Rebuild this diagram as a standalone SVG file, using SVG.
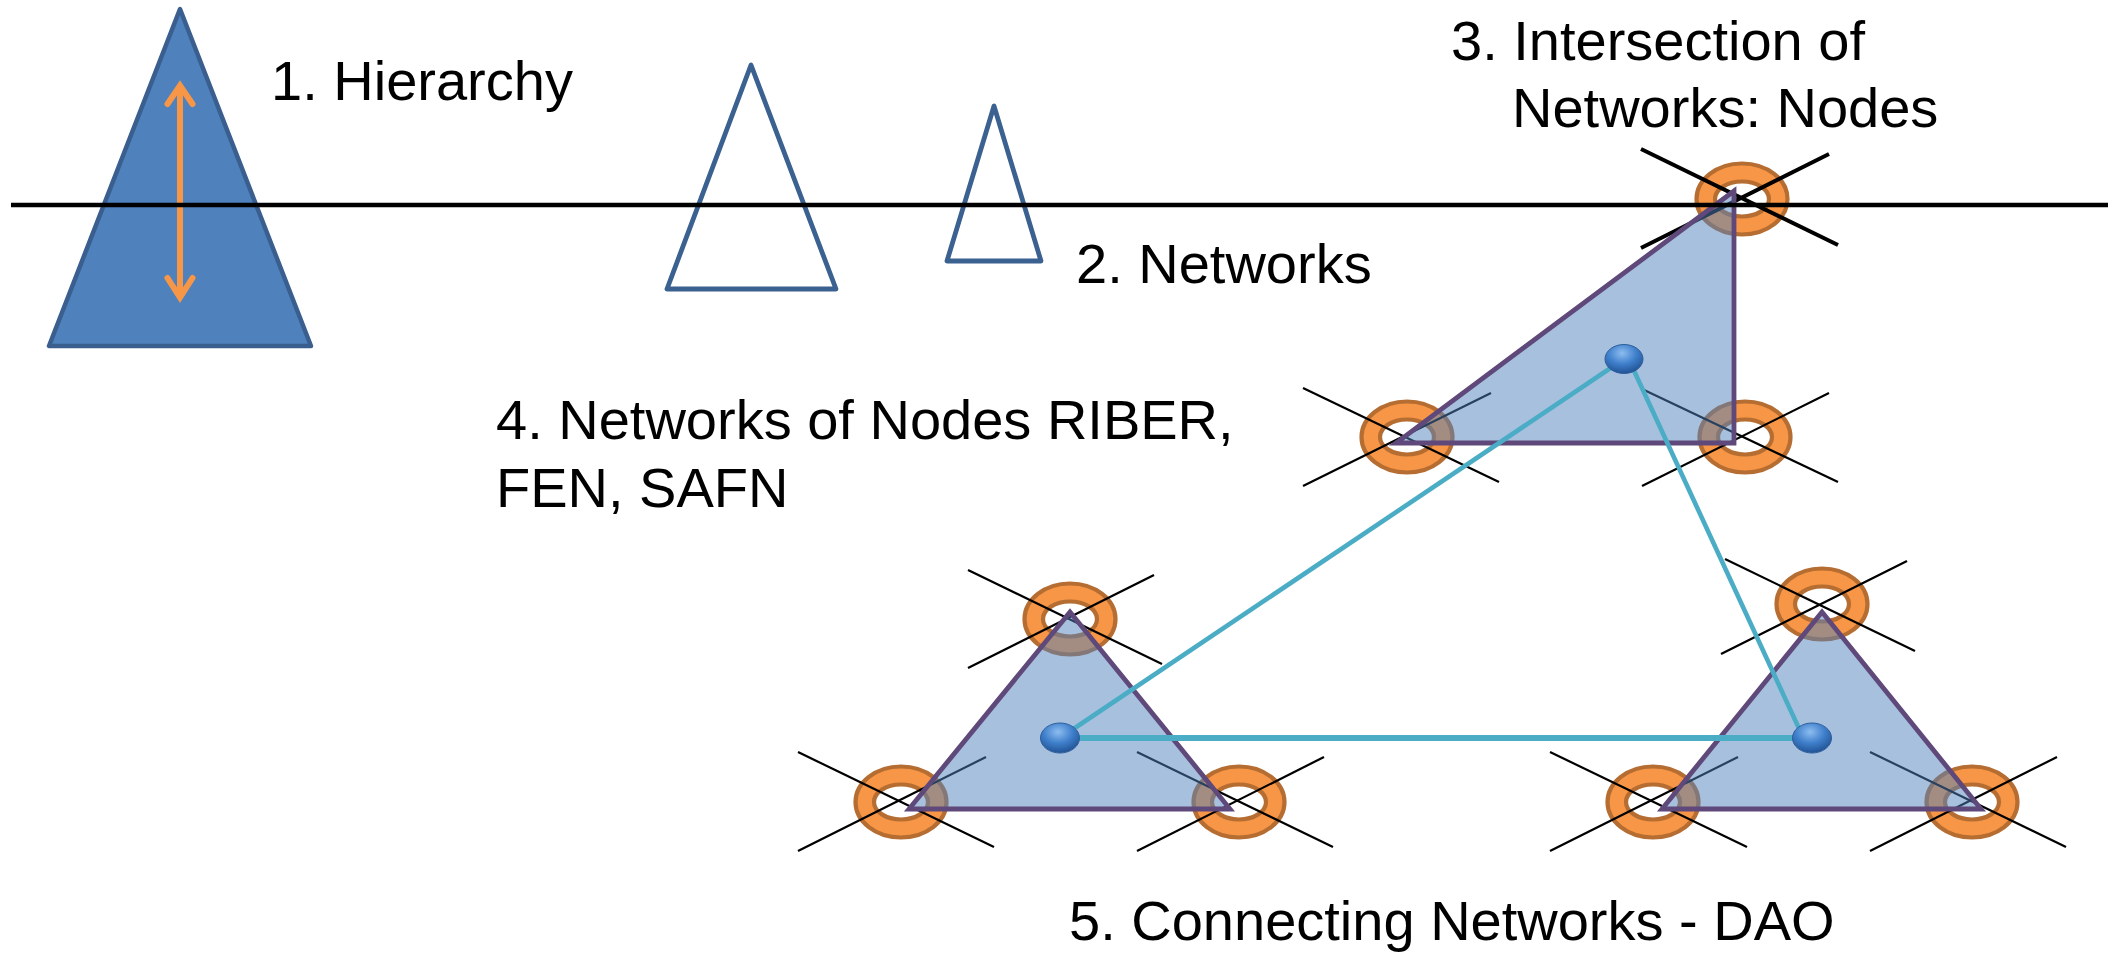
<svg xmlns="http://www.w3.org/2000/svg" width="2112" height="953" viewBox="0 0 2112 953">
<defs>
<style>
.lbl{font-family:"Liberation Sans",Arial,sans-serif;font-size:56px;fill:#000}
.x{stroke:#000;stroke-width:2.2;fill:none}
.xt{stroke:#000;stroke-width:4;fill:none}
.net{fill:#4F81BD;fill-opacity:0.5;stroke:#5F497A;stroke-width:4.8;stroke-linejoin:miter}
.tri{fill:none;stroke:#3B6190;stroke-width:4.8;stroke-linejoin:round}
.link{stroke:#4BACC6;fill:none}
.ball{fill:url(#bg);stroke:#2E5E9C;stroke-width:1}
.arr{stroke:#F79646;stroke-width:6;fill:none;stroke-linecap:round;stroke-linejoin:miter}
</style>
<radialGradient id="bg" cx="0.45" cy="0.3" r="0.75">
<stop offset="0" stop-color="#8DBDF0"/>
<stop offset="0.5" stop-color="#3F7FCB"/>
<stop offset="1" stop-color="#1D4C8C"/>
</radialGradient>
<path id="ring" fill="#F79646" stroke="#B66D31" stroke-width="4.2" fill-rule="evenodd" d="M-45.5,0 a45.5,35.5 0 1,0 91,0 a45.5,35.5 0 1,0 -91,0 Z M-27,0 a27,17.5 0 1,0 54,0 a27,17.5 0 1,0 -54,0 Z"/>
</defs>
<rect width="2112" height="953" fill="#fff"/>

<g id="hierarchy">
<polygon points="180,9 49,346 311,346" fill="#4F81BD" stroke="#3A5F8F" stroke-width="4.5" stroke-linejoin="round"/>
<line class="arr" x1="180" y1="88" x2="180" y2="295"/>
<polyline class="arr" points="167.5,104 180,85.5 192.5,104"/>
<polyline class="arr" points="167.5,278 180,297.5 192.5,278"/>
</g>

<g id="network-medium">
<polygon class="tri" points="751,65 667,289 836,289"/>
</g>
<g id="network-small">
<polygon class="tri" points="994,106 947,261 1041,261"/>
</g>

<g id="node-top-intersection">
<use href="#ring" x="1742" y="199"/>
<line class="xt" x1="1641" y1="149" x2="1838" y2="245"/>
<line class="xt" x1="1641" y1="248" x2="1829" y2="154"/>
</g>
<g id="node-top-left">
<use href="#ring" x="1407" y="437"/>
<line class="x" x1="1303" y1="388" x2="1499" y2="482"/>
<line class="x" x1="1303" y1="486" x2="1491" y2="393"/>
</g>
<g id="node-top-right">
<use href="#ring" x="1745" y="437"/>
<line class="x" x1="1642" y1="389" x2="1838" y2="482"/>
<line class="x" x1="1642" y1="486" x2="1829" y2="393"/>
</g>
<g id="node-bl-top">
<use href="#ring" x="1070" y="619"/>
<line class="x" x1="968" y1="570" x2="1162" y2="664"/>
<line class="x" x1="968" y1="668" x2="1154" y2="575"/>
</g>
<g id="node-bl-left">
<use href="#ring" x="901" y="802"/>
<line class="x" x1="798" y1="752" x2="994" y2="847"/>
<line class="x" x1="798" y1="851" x2="986" y2="757"/>
</g>
<g id="node-bl-right">
<use href="#ring" x="1239" y="802"/>
<line class="x" x1="1137" y1="752" x2="1333" y2="847"/>
<line class="x" x1="1137" y1="851" x2="1324" y2="757"/>
</g>
<g id="node-br-top">
<use href="#ring" x="1822" y="604"/>
<line class="x" x1="1725" y1="559" x2="1915" y2="651"/>
<line class="x" x1="1721" y1="654" x2="1907" y2="561"/>
</g>
<g id="node-br-left">
<use href="#ring" x="1653" y="802"/>
<line class="x" x1="1550" y1="752" x2="1747" y2="847"/>
<line class="x" x1="1550" y1="851" x2="1738" y2="757"/>
</g>
<g id="node-br-right">
<use href="#ring" x="1972" y="802"/>
<line class="x" x1="1870" y1="752" x2="2066" y2="847"/>
<line class="x" x1="1870" y1="851" x2="2057" y2="757"/>
</g>

<g id="net-top">
<polygon class="net" points="1734,191 1396,443 1734,443"/>
</g>
<g id="net-bottom-left">
<polygon class="net" points="1070,612 909,809 1230,809"/>
</g>
<g id="net-bottom-right">
<polygon class="net" points="1822,612 1662,809 1981,809"/>
</g>

<g id="connectors">
<line class="link" stroke-width="4.6" x1="1060" y1="738" x2="1624" y2="359"/>
<line class="link" stroke-width="4.6" x1="1630" y1="362" x2="1802" y2="735"/>
<line class="link" stroke-width="6" x1="1060" y1="738" x2="1812" y2="738"/>
</g>

<g id="hub-top"><ellipse class="ball" cx="1624" cy="359" rx="19" ry="14.5"/></g>
<g id="hub-bottom-left"><ellipse class="ball" cx="1060" cy="738" rx="19.5" ry="15"/></g>
<g id="hub-bottom-right"><ellipse class="ball" cx="1812" cy="738" rx="19.5" ry="15"/></g>

<g id="horizon">
<line x1="11" y1="205" x2="2108" y2="205" stroke="#000" stroke-width="4.6"/>
</g>

<g id="labels">
<text class="lbl" x="271" y="100">1. Hierarchy</text>
<text class="lbl" x="1076" y="283">2. Networks</text>
<text class="lbl" x="1451" y="60">3. Intersection of</text>
<text class="lbl" x="1512" y="127">Networks: Nodes</text>
<text class="lbl" x="496" y="439">4. Networks of Nodes RIBER,</text>
<text class="lbl" x="496" y="507">FEN, SAFN</text>
<text class="lbl" x="1069" y="940">5. Connecting Networks - DAO</text>
</g>
</svg>
